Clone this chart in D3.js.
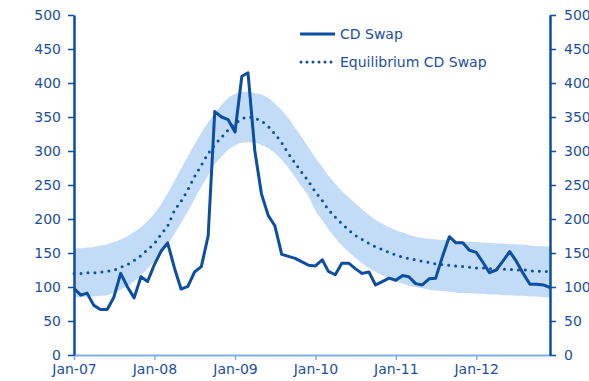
<!DOCTYPE html>
<html>
<head>
<meta charset="utf-8">
<script src="https://cdn.jsdelivr.net/npm/d3@7"></script>
<style>
  html, body { margin: 0; padding: 0; background: #fff; }
  svg { display: block; }
  text { font-family: "DejaVu Sans", Verdana, sans-serif; fill: #1b4f9e; }
</style>
</head>
<body>
<svg id="chart" width="589" height="381"></svg>
<script>
// Monthly observations, Jan-2007 .. Dec-2012
const startYear = 2007, startMonth = 0;

const cdSwap = [
  98, 88, 91, 73, 67, 67, 85, 120, 100, 84, 115, 108,
  133, 153, 165, 128, 97, 101, 122, 130, 175, 358, 350, 346,
  328, 410, 415, 300, 237, 205, 190, 148, 145, 142, 137, 132,
  131, 140, 123, 118, 135, 135, 127, 120, 122, 103, 108, 113,
  110, 117, 115, 105, 103, 112, 113, 145, 174, 165, 165, 154,
  151, 136, 121, 125, 138, 152, 138, 120, 104, 104, 103, 99
];

const equilibrium = [
  120, 120, 121, 121, 122, 123, 125, 129, 133, 139, 146, 155,
  164, 178, 190, 212, 226, 243, 262, 279, 296, 309, 320, 331,
  340, 347, 350, 348, 344, 336, 325, 312, 296, 282, 268, 255,
  240, 227, 214, 203, 193, 184, 176, 170, 164, 159, 155, 151,
  147, 144, 142, 140, 138, 136, 134, 133, 132, 131, 130, 129,
  128, 128, 127, 127, 126, 126, 125, 125, 124, 123, 123, 122
];

const bandUpper = [
  157, 157, 158, 159, 161, 163, 166, 170, 175, 181, 188, 197,
  208, 222, 238, 256, 274, 292, 310, 327, 342, 356, 368, 378,
  384, 387, 387, 385, 383, 378, 370, 360, 348, 334, 320, 305,
  290, 277, 264, 252, 241, 232, 223, 214, 206, 199, 193, 188,
  184, 180, 177, 174, 172, 171, 170, 169, 168, 167, 167, 166,
  166, 165, 165, 164, 164, 163, 163, 162, 161, 160, 160, 159
];

const bandLower = [
  85, 85, 86, 86, 87, 88, 92, 96, 101, 108, 117, 127,
  138, 150, 163, 178, 194, 211, 229, 247, 264, 280, 292, 302,
  308, 312, 313, 312, 309, 304, 297, 287, 275, 261, 247, 233,
  212, 198, 185, 172, 161, 152, 143, 135, 128, 122, 117, 112,
  108, 105, 102, 100, 98, 96, 95, 94, 93, 92, 91, 91,
  90, 90, 89, 89, 88, 88, 87, 87, 86, 86, 85, 85
];

const yTicks = [0, 50, 100, 150, 200, 250, 300, 350, 400, 450, 500];
const xTickYears = [2007, 2008, 2009, 2010, 2011, 2012];
const seriesNames = ["CD Swap", "Equilibrium CD Swap"];

const dates = cdSwap.map((_, i) => new Date(startYear, startMonth + i, 1));
const rows = dates.map((d, i) => ({
  date: d, cd: cdSwap[i], eq: equilibrium[i], hi: bandUpper[i], lo: bandLower[i]
}));

const W = 589, H = 381;
const margin = { top: 15, right: 39, bottom: 26, left: 74 };
const innerW = W - margin.left - margin.right;
const innerH = H - margin.top - margin.bottom;

const dark = "#0b4ea2";
const bandFill = "#c2dcf8";
const baseAxis = "#80aee6";

const svg = d3.select("#chart");
const g = svg.append("g").attr("transform", `translate(${margin.left},${margin.top})`);

const x = d3.scaleTime()
  .domain([dates[0], dates[dates.length - 1]])
  .range([0, innerW]);
const y = d3.scaleLinear().domain([0, 500]).range([innerH, 0]);

// Equilibrium band
g.append("path")
  .datum(rows)
  .attr("fill", bandFill)
  .attr("d", d3.area()
    .curve(d3.curveMonotoneX)
    .x(d => x(d.date)).y0(d => y(d.lo)).y1(d => y(d.hi)));

// Equilibrium CD Swap (dotted)
g.append("path")
  .datum(rows)
  .attr("fill", "none")
  .attr("stroke", dark)
  .attr("stroke-width", 3)
  .attr("stroke-linecap", "round")
  .attr("stroke-dasharray", "0,7")
  .attr("d", d3.line().curve(d3.curveMonotoneX).x(d => x(d.date)).y(d => y(d.eq)));

// CD Swap
g.append("path")
  .datum(rows)
  .attr("fill", "none")
  .attr("stroke", dark)
  .attr("stroke-width", 3)
  .attr("stroke-linejoin", "round")
  .attr("d", d3.line().x(d => x(d.date)).y(d => y(d.cd)));

// Bottom axis
const xAxis = d3.axisBottom(x)
  .tickValues(xTickYears.map(yr => new Date(yr, 0, 1)))
  .tickFormat(d3.timeFormat("%b-%y"))
  .tickSize(5).tickSizeOuter(0).tickPadding(4);
const gx = g.append("g").attr("transform", `translate(0,${innerH})`).call(xAxis);
gx.select(".domain").attr("stroke", baseAxis).attr("stroke-width", 2);
gx.selectAll(".tick line").attr("stroke", baseAxis).attr("stroke-width", 1.5);
gx.selectAll(".tick text").style("font-size", "14px").attr("fill", "#1b4f9e");

// Left axis
const yAxisL = d3.axisLeft(y).tickValues(yTicks).tickSize(6).tickSizeOuter(0).tickPadding(7);
const gyl = g.append("g").call(yAxisL);
gyl.select(".domain").attr("stroke", dark).attr("stroke-width", 2.5);
gyl.selectAll(".tick line").attr("stroke", dark).attr("stroke-width", 1.5);
gyl.selectAll(".tick text").style("font-size", "14px").attr("fill", "#1b4f9e");

// Right axis
const yAxisR = d3.axisRight(y).tickValues(yTicks).tickSize(6).tickSizeOuter(0).tickPadding(8);
const gyr = g.append("g").attr("transform", `translate(${innerW},0)`).call(yAxisR);
gyr.select(".domain").attr("stroke", dark).attr("stroke-width", 2.5);
gyr.selectAll(".tick line").attr("stroke", dark).attr("stroke-width", 1.5);
gyr.selectAll(".tick text").style("font-size", "14px").attr("fill", "#1b4f9e");

// Legend
const legend = svg.append("g").attr("transform", "translate(300,34)");
legend.append("line").attr("x1", 0).attr("x2", 35).attr("y1", 0).attr("y2", 0)
  .attr("stroke", dark).attr("stroke-width", 3);
legend.append("text").attr("x", 40).attr("y", 0).attr("dy", "0.35em")
  .style("font-size", "14px").text(seriesNames[0]);
legend.append("line").attr("x1", 1).attr("x2", 33).attr("y1", 28).attr("y2", 28)
  .attr("stroke", dark).attr("stroke-width", 3)
  .attr("stroke-linecap", "round").attr("stroke-dasharray", "0,6");
legend.append("text").attr("x", 40).attr("y", 28).attr("dy", "0.35em")
  .style("font-size", "14px").text(seriesNames[1]);
</script>
</body>
</html>
